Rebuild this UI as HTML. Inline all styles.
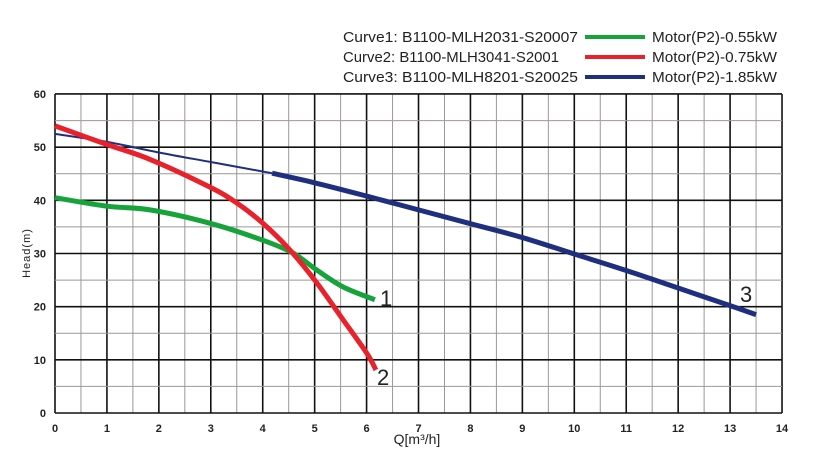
<!DOCTYPE html>
<html><head><meta charset="utf-8"><style>
body{margin:0;background:#fff;}
svg{display:block;font-family:"Liberation Sans",Arial,sans-serif;}
</style></head><body>
<svg id="s" width="830" height="460" xmlns="http://www.w3.org/2000/svg">
<g font-size="15" fill="#222">
<text x="343" y="42" textLength="235" lengthAdjust="spacingAndGlyphs">Curve1: B1100-MLH2031-S20007</text>
<text x="343" y="62" textLength="216" lengthAdjust="spacingAndGlyphs">Curve2: B1100-MLH3041-S2001</text>
<text x="343" y="82" textLength="235" lengthAdjust="spacingAndGlyphs">Curve3: B1100-MLH8201-S20025</text>
<text x="652" y="42" textLength="125" lengthAdjust="spacingAndGlyphs">Motor(P2)-0.55kW</text>
<text x="652" y="62" textLength="125" lengthAdjust="spacingAndGlyphs">Motor(P2)-0.75kW</text>
<text x="652" y="82" textLength="125" lengthAdjust="spacingAndGlyphs">Motor(P2)-1.85kW</text>
</g>
<line x1="585" y1="37" x2="645" y2="37" stroke="#16a33a" stroke-width="4"/>
<line x1="585" y1="57" x2="645" y2="57" stroke="#e8212a" stroke-width="4"/>
<line x1="585" y1="77" x2="645" y2="77" stroke="#1f2f7f" stroke-width="4"/>
<g id="grid"></g>
<g id="curves"></g>
<text x="417" y="444" font-size="14" text-anchor="middle" fill="#222">Q[m³/h]</text>
<text transform="translate(30,253) rotate(-90)" font-size="11" letter-spacing="1" text-anchor="middle" fill="#222">Head(m)</text>
<text x="380" y="306" font-size="22" fill="#222">1</text>
<text x="377" y="385" font-size="22" fill="#222">2</text>
<text x="740" y="302" font-size="22" fill="#222">3</text>
</svg>
<script>
var NS="http://www.w3.org/2000/svg";
function X(v){return 55+51.93*v}function Y(v){return 413-5.317*v}
function el(p,t,a){var e=document.createElementNS(NS,t);for(var k in a)e.setAttribute(k,a[k]);p.appendChild(e);return e}
var g=document.getElementById("grid");
for(var i=0;i<=28;i++){var v=i/2,b=i%2==0;el(g,"line",{x1:X(v),y1:Y(0),x2:X(v),y2:Y(60),stroke:b?"#111":"#999","stroke-width":b?1.6:1});}
for(var j=0;j<=12;j++){var v=j*5,b=j%2==0;el(g,"line",{x1:X(0),y1:Y(v),x2:X(14),y2:Y(v),stroke:b?"#111":"#999","stroke-width":b?1.6:1});}
el(g,"line",{x1:X(0.1),y1:Y(55),x2:X(14),y2:Y(55),stroke:"#b99","stroke-width":0.8,"stroke-dasharray":"2,2"});
for(var i=0;i<=14;i++){var t=el(g,"text",{x:X(i),y:432,"font-size":11,"font-weight":"bold","text-anchor":"middle",fill:"#222"});t.textContent=i;}
for(var j=0;j<=6;j++){var t=el(g,"text",{x:46,y:Y(j*10)+4,"font-size":11,"font-weight":"bold","text-anchor":"end",fill:"#222"});t.textContent=j*10;}
function path(pts){
 var p=pts.map(function(q){return[X(q[0]),Y(q[1])]});var d="M"+p[0][0]+","+p[0][1];
 for(var i=0;i<p.length-1;i++){var p0=p[i-1]||p[i],p1=p[i],p2=p[i+1],p3=p[i+2]||p2;
 d+="C"+(p1[0]+(p2[0]-p0[0])/6)+","+(p1[1]+(p2[1]-p0[1])/6)+" "+(p2[0]-(p3[0]-p1[0])/6)+","+(p2[1]-(p3[1]-p1[1])/6)+" "+p2[0]+","+p2[1];}
 return d;}
var c=document.getElementById("curves");
el(c,"path",{d:path([[0,52.5],[1,51],[2,49],[3,47.2],[4.18,45.1]]),stroke:"#1f2f7f","stroke-width":2,fill:"none"});
el(c,"path",{d:path([[4.18,45.1],[5,43.3],[6,40.8],[7,38.2],[8,35.6],[9,33],[10,29.9],[11,26.8],[12,23.5],[13,20.2],[13.5,18.5]]),stroke:"#1f2f7f","stroke-width":5,fill:"none"});
el(c,"path",{d:path([[0,40.5],[1,38.9],[1.83,38.2],[2.98,35.7],[4,32.5],[4.58,30.1],[5.04,26.9],[5.55,23.7],[6.16,21.3]]),stroke:"#16a33a","stroke-width":5,fill:"none"});
el(c,"path",{d:path([[0,54],[1,50.5],[1.83,47.7],[2.98,42.5],[3.5,39.5],[4,35.7],[4.52,30.7],[5.04,24.5],[5.55,17.5],[6,11.3],[6.18,8.1]]),stroke:"#e8212a","stroke-width":5,fill:"none"});
</script>
</body></html>
